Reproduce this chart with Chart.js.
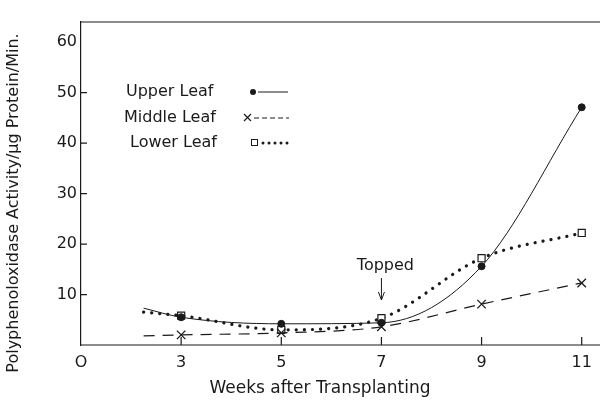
<!DOCTYPE html>
<html>
<head>
<meta charset="utf-8">
<script src="https://cdn.jsdelivr.net/npm/chart.js@4"></script>
<style>
  html, body { margin: 0; padding: 0; background: #fff; }
  #wrap { width: 600px; height: 403px; }
</style>
</head>
<body>
<div id="wrap"><canvas id="chartPPO"></canvas></div>
<script>
// --- data ---
const weeks = [2.25, 3, 5, 7, 9, 11];
const upperLeaf = [7.3, 5.5, 4.2, 4.4, 15.6, 47.1];
const middleLeaf = [1.8, 2.0, 2.4, 3.6, 8.1, 12.3];
const lowerLeaf = [6.5, 5.8, 3.0, 5.3, 17.2, 22.2];
const xTicks = [1, 3, 5, 7, 9, 11];   // first tick is the origin, printed as "O"
const yTicks = [10, 20, 30, 40, 50, 60];

const FONT = "'DejaVu Sans', sans-serif";
const INK = '#1a1a1a';
const noMarkerFirst = r => weeks.map((w, i) => i === 0 ? 0 : r);
const pts = arr => weeks.map((w, i) => ({ x: w, y: arr[i] }));

// frame, ticks, titles, legend and the "Topped" note
const decor = {
    id: 'decor',
    afterDraw(chart) {
        const ctx = chart.ctx;
        const { left, right, top, bottom } = chart.chartArea;
        const xs = chart.scales.x, ys = chart.scales.y;
        const base = ys.getPixelForValue(0);
        ctx.save();
        ctx.strokeStyle = INK;
        ctx.fillStyle = INK;
        ctx.lineWidth = 1.2;
        // top frame line and baseline run out to the page edge
        ctx.beginPath();
        ctx.moveTo(left, top); ctx.lineTo(chart.width, top);
        ctx.moveTo(left, base); ctx.lineTo(chart.width, base);
        ctx.stroke();
        // inward tick marks
        ctx.beginPath();
        yTicks.slice(0, -1).forEach(v => {
            const y = ys.getPixelForValue(v);
            ctx.moveTo(left, y); ctx.lineTo(left + 6, y);
        });
        xTicks.slice(1).forEach(v => {
            const x = xs.getPixelForValue(v);
            ctx.moveTo(x, base); ctx.lineTo(x, base - 8);
        });
        ctx.stroke();

        // axis titles
        ctx.font = '16px ' + FONT;
        ctx.textAlign = 'center';
        ctx.textBaseline = 'middle';
        ctx.save();
        ctx.translate(14, 203);
        ctx.rotate(-Math.PI / 2);
        ctx.fillText('Polyphenoloxidase Activity/\u03bcg Protein/Min.', 0, 0);
        ctx.restore();
        ctx.font = '17px ' + FONT;
        ctx.fillText('Weeks after Transplanting', 320, 389);

        // "Topped" with arrow at week 7
        const x7 = xs.getPixelForValue(7);
        ctx.font = '16px ' + FONT;
        ctx.fillText('Topped', x7 + 4, 266);
        ctx.lineWidth = 1;
        ctx.beginPath();
        ctx.moveTo(x7, 278); ctx.lineTo(x7, 300);
        ctx.moveTo(x7 - 3, 292); ctx.lineTo(x7, 300); ctx.lineTo(x7 + 3, 292);
        ctx.stroke();

        // legend
        ctx.textAlign = 'left';
        ctx.font = '16px ' + FONT;
        ctx.fillText('Upper Leaf', 126, 92);
        ctx.fillText('Middle Leaf', 124, 118);
        ctx.fillText('Lower Leaf', 130, 143);
        // solid + dot
        ctx.beginPath(); ctx.arc(253, 92, 3, 0, Math.PI * 2); ctx.fill();
        ctx.beginPath(); ctx.moveTo(258, 92); ctx.lineTo(288, 92); ctx.stroke();
        // x + dashes
        ctx.lineWidth = 1.2;
        ctx.beginPath();
        ctx.moveTo(244, 114); ctx.lineTo(251, 121);
        ctx.moveTo(251, 114); ctx.lineTo(244, 121);
        ctx.stroke();
        ctx.setLineDash([5, 3]);
        ctx.beginPath(); ctx.moveTo(254, 118); ctx.lineTo(289, 118); ctx.stroke();
        ctx.setLineDash([]);
        // square + dots
        ctx.lineWidth = 1;
        ctx.strokeRect(251.5, 139.5, 6, 6);
        for (let i = 0; i < 5; i++) {
            ctx.beginPath(); ctx.arc(263 + i * 6, 143, 1.5, 0, Math.PI * 2); ctx.fill();
        }
        ctx.restore();
    }
};

const ctxPPO = document.getElementById('chartPPO').getContext('2d');
new Chart(ctxPPO, {
    type: 'line',
    data: {
        datasets: [{
            label: 'Upper Leaf',
            data: pts(upperLeaf),
            borderColor: INK,
            backgroundColor: INK,
            borderWidth: 1,
            pointStyle: 'circle',
            pointRadius: noMarkerFirst(3.5),
            cubicInterpolationMode: 'monotone'
        }, {
            label: 'Middle Leaf',
            data: pts(middleLeaf),
            borderColor: INK,
            backgroundColor: INK,
            borderWidth: 1.2,
            borderDash: [11, 8],
            pointStyle: 'crossRot',
            pointRadius: noMarkerFirst(6),
            pointBorderWidth: 1.3,
            cubicInterpolationMode: 'monotone'
        }, {
            label: 'Lower Leaf',
            data: pts(lowerLeaf),
            borderColor: INK,
            backgroundColor: '#fff',
            borderWidth: 3.2,
            borderDash: [0.1, 8],
            borderCapStyle: 'round',
            pointStyle: 'rect',
            pointRadius: noMarkerFirst(5),
            pointBorderWidth: 1.2,
            cubicInterpolationMode: 'monotone'
        }]
    },
    options: {
        responsive: true,
        maintainAspectRatio: false,
        animation: false,
        layout: { padding: { top: 22, right: 0, left: 0, bottom: 0 } },
        plugins: {
            legend: { display: false },
            tooltip: { enabled: false }
        },
        scales: {
            x: {
                type: 'linear',
                min: 1,
                max: 11.15,
                afterFit: s => { s.height = 58; },
                afterBuildTicks: s => { s.ticks = xTicks.map(v => ({ value: v })); },
                grid: { display: false, drawTicks: false },
                border: { display: false },
                ticks: {
                    padding: 8,
                    color: INK,
                    font: { family: FONT, size: 16 },
                    callback: v => v === 1 ? 'O' : v
                }
            },
            y: {
                type: 'linear',
                min: 0,
                max: 64,
                afterFit: s => { s.width = 81; },
                afterBuildTicks: s => { s.ticks = yTicks.map(v => ({ value: v })); },
                grid: { display: false, drawTicks: false },
                border: { display: true, color: INK, width: 1.2 },
                ticks: {
                    padding: 4,
                    color: INK,
                    font: { family: FONT, size: 16 }
                }
            }
        }
    },
    plugins: [decor]
});
</script>
</body>
</html>
